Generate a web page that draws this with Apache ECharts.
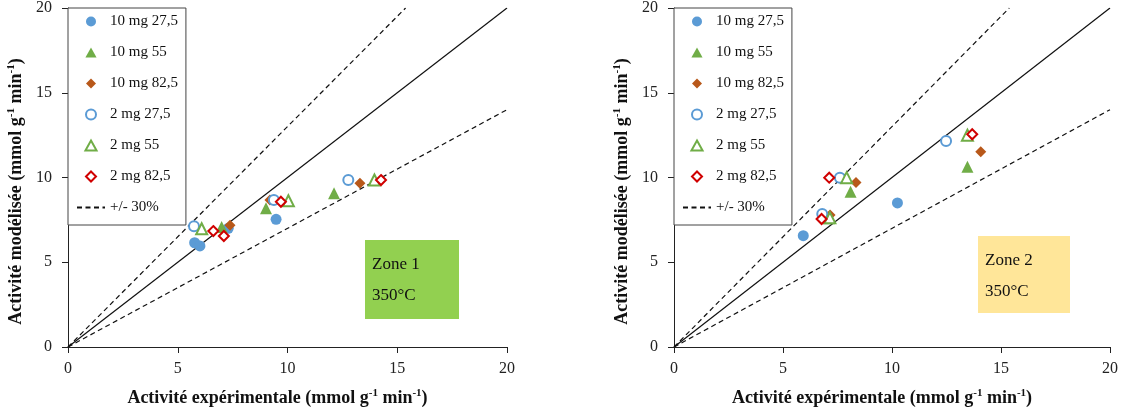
<!DOCTYPE html>
<html>
<head>
<meta charset="utf-8">
<script src="https://cdn.jsdelivr.net/npm/echarts@6/dist/echarts.min.js"></script>
<style>
html,body{margin:0;padding:0;background:#fff;}
#c{width:1123px;height:414px;}
</style>
</head>
<body>
<div id="c"></div>
<script>
// ---- data ----
const seriesNames = ['10 mg 27,5','10 mg 55','10 mg 82,5','2 mg 27,5','2 mg 55','2 mg 82,5'];
const bandName = '+/- 30%';

// Zone 1
const z1_10mg_275 = [[5.77,6.15],[6.01,5.96],[7.3,7.0],[9.48,7.53]];
const z1_10mg_55  = [[7.0,7.08],[9.02,8.18],[12.12,9.07]];
const z1_10mg_825 = [[7.38,7.18],[9.2,8.67],[13.3,9.66]];
const z1_2mg_275  = [[5.74,7.12],[9.38,8.67],[12.77,9.85]];
const z1_2mg_55   = [[6.09,6.98],[10.04,8.63],[13.96,9.85]];
const z1_2mg_825  = [[6.62,6.84],[7.1,6.55],[9.7,8.57],[14.26,9.85]];

// Zone 2
const z2_10mg_275 = [[5.93,6.57],[6.82,7.72],[10.25,8.5]];
const z2_10mg_55  = [[7.11,7.59],[8.1,9.16],[13.46,10.64]];
const z2_10mg_825 = [[7.16,7.79],[8.35,9.71],[14.07,11.52]];
const z2_2mg_275  = [[6.8,7.85],[7.61,9.99],[12.48,12.15]];
const z2_2mg_55   = [[7.15,7.62],[7.92,9.99],[13.46,12.5]];
const z2_2mg_825  = [[6.77,7.55],[7.12,9.99],[13.68,12.55]];

// reference lines (y = x, +30 %, -30 %)
const lineParity = [[0,0],[20,20]];
const lineUpper  = [[0,0],[15.38,20]];
const lineLower  = [[0,0],[20,14]];

const zoneLabels = [['Zone 1','350°C'],['Zone 2','350°C']];
const axisTitleX = 'Activité expérimentale (mmol g{sup|-1} min{sup|-1})';
const axisTitleY = 'Activité modélisée (mmol g{sup|-1} min{sup|-1})';

// ---- styles ----
const FONT = '"Liberation Serif", "DejaVu Serif", serif';
const BLUE = '#5B9BD5', GREEN = '#70AD47', BROWN = '#B8581A', RED = '#D00000';
const P_CIRCLE = 'path://M5,0A5,5,0,1,1,5,10A5,5,0,1,1,5,0Z';
const P_TRI = 'path://M5,0L10,9L0,9Z';
const P_DIA = 'path://M5,0L10,5L5,10L0,5Z';
const styles = [
  {symbol:'circle',   icon:P_CIRCLE, size:11, fill:BLUE,  border:BLUE,  bw:0},
  {symbol:'triangle', icon:P_TRI,    size:12, fill:GREEN, border:GREEN, bw:0},
  {symbol:'diamond',  icon:P_DIA,    size:11, fill:BROWN, border:BROWN, bw:0},
  {symbol:'circle',   icon:P_CIRCLE, size:10, fill:'#fff', border:BLUE,  bw:2},
  {symbol:'triangle', icon:P_TRI,    size:11, fill:'#fff', border:GREEN, bw:2},
  {symbol:'diamond',  icon:P_DIA,    size:10, fill:'#fff', border:RED,   bw:2}
];

const zoneData = [
  [z1_10mg_275,z1_10mg_55,z1_10mg_825,z1_2mg_275,z1_2mg_55,z1_2mg_825],
  [z2_10mg_275,z2_10mg_55,z2_10mg_825,z2_2mg_275,z2_2mg_55,z2_2mg_825]
];

const grids = [
  {left:68, top:8, width:439, height:339},
  {left:674, top:8, width:436, height:339}
];

function titleStyle(pad){
  return {fontFamily:FONT, fontWeight:'bold', fontSize:18, color:'#111', lineHeight:20, padding:pad,
    rich:{sup:{fontFamily:FONT, fontWeight:'bold', fontSize:11, lineHeight:11, verticalAlign:'top', color:'#111'}}};
}

function mkX(i){
  return {
    type:'value', gridIndex:i, min:0, max:20, interval:5,
    name:axisTitleX, nameLocation:'middle', nameGap:41,
    nameTextStyle:titleStyle([0,20,0,0]),
    axisLine:{show:true, onZero:false, lineStyle:{color:'#222', width:1}},
    axisTick:{show:true, inside:false, length:6, lineStyle:{color:'#222'}},
    axisLabel:{fontFamily:FONT, fontSize:16, color:'#222', margin:14},
    splitLine:{show:false}
  };
}
function mkY(i){
  return {
    type:'value', gridIndex:i, min:0, max:20, interval:5,
    name:axisTitleY, nameLocation:'middle', nameGap:42, nameRotate:90,
    nameTextStyle:titleStyle([0,28,0,0]),
    axisLine:{show:true, onZero:false, lineStyle:{color:'#222', width:1}},
    axisTick:{show:true, inside:false, length:6, lineStyle:{color:'#222'}},
    axisLabel:{fontFamily:FONT, fontSize:16, color:'#222', margin:16},
    splitLine:{show:false}
  };
}

const DASH = [5,3.5];
const series = [];
for (let g=0; g<2; g++){
  series.push({type:'line', xAxisIndex:g, yAxisIndex:g, data:lineParity, symbol:'none', silent:true,
    lineStyle:{color:'#111', width:1.2}, z:1});
  series.push({type:'line', name:bandName, xAxisIndex:g, yAxisIndex:g, data:lineUpper, symbol:'none', silent:true,
    lineStyle:{color:'#111', width:1.2, type:DASH}, itemStyle:{color:'rgba(0,0,0,0)'}, z:1});
  series.push({type:'line', name:bandName, xAxisIndex:g, yAxisIndex:g, data:lineLower, symbol:'none', silent:true,
    lineStyle:{color:'#111', width:1.2, type:DASH}, itemStyle:{color:'rgba(0,0,0,0)'}, z:1});
  for (let s=0; s<6; s++){
    const st = styles[s];
    series.push({
      type:'scatter', name:seriesNames[s], xAxisIndex:g, yAxisIndex:g,
      data:zoneData[g][s], symbol:st.symbol, symbolSize:st.size,
      itemStyle:{color:st.fill, borderColor:st.border, borderWidth:st.bw, opacity:1},
      z:2+s
    });
  }
}

function mkLegend(left){
  const data = seriesNames.map((n,i)=>({name:n, icon:styles[i].icon}));
  data.push({name:bandName});
  return {
    left:left, top:8, orient:'vertical',
    data:data, symbolKeepAspect:true,
    backgroundColor:'#fff', borderColor:'#444', borderWidth:1,
    padding:[6,8,10,8], itemGap:16, itemWidth:28, itemHeight:10,
    selectedMode:false,
    textStyle:{fontFamily:FONT, fontSize:15, color:'#111', lineHeight:15}
  };
}

const zoneBoxes = [
  {x:365, y:240, w:94, h:79, fill:'#92D050'},
  {x:978, y:236, w:92, h:77, fill:'#FFE699'}
];
const graphic = [];
zoneBoxes.forEach((b,i)=>{
  graphic.push({type:'rect', shape:{x:b.x, y:b.y, width:b.w, height:b.h}, style:{fill:b.fill}, z:0});
  graphic.push({type:'text', x:b.x+7, y:b.y+9.5, style:{text:zoneLabels[i].join('\n'), font:'17px '+FONT, fill:'#111', lineHeight:31, verticalAlign:'top'}, z:1});
});

const chart = echarts.init(document.getElementById('c'), null, {renderer:'canvas'});
chart.setOption({
  animation:false,
  backgroundColor:'#fff',
  grid:grids,
  xAxis:[mkX(0), mkX(1)],
  yAxis:[mkY(0), mkY(1)],
  legend:[mkLegend(68), mkLegend(674)],
  series:series,
  graphic:graphic
});
</script>
</body>
</html>
